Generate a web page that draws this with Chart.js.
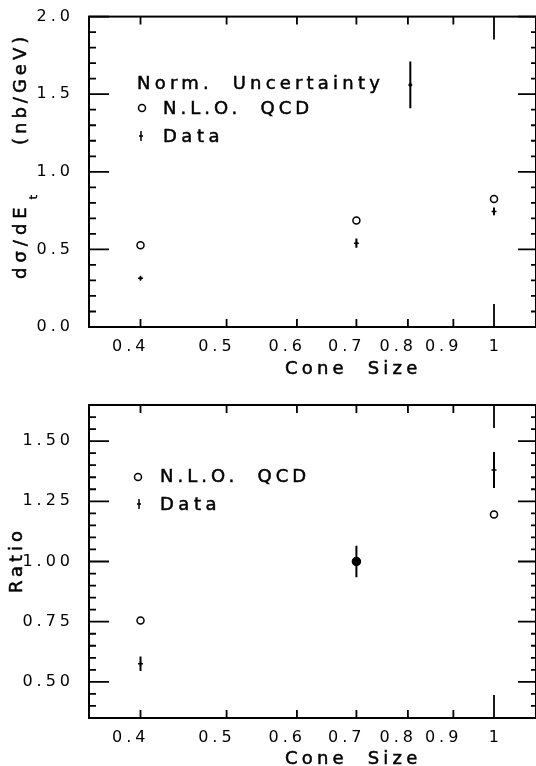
<!DOCTYPE html>
<html>
<head>
<meta charset="utf-8">
<script src="https://cdn.jsdelivr.net/npm/chart.js@4.4.0/dist/chart.umd.min.js"></script>
<style>
  html, body { margin: 0; padding: 0; background: #fff; }
  .panel { position: absolute; left: 0; width: 536px; height: 383px; }
</style>
</head>
<body>
<div class="panel" style="top:0"><canvas id="xsecChart" width="536" height="383"></canvas></div>
<div class="panel" style="top:383px"><canvas id="ratioChart" width="536" height="383"></canvas></div>
<script>
// values
const coneSizes = [0.4, 0.7, 1.0];
const nloXsec = [0.526, 0.686, 0.825];
const dataXsec = [0.314, 0.54, 0.745];
const dataXsecErr = [0.01, 0.03, 0.025];
const normUncX = [0.805];
const normUncY = [1.56];
const normUncErr = [0.15];
const nloRatio = [0.755, 1.0, 1.195];
const dataRatio = [0.575, 1.0, 1.38];
const dataRatioErr = [0.03, 0.065, 0.075];

const xTicks = [0.4, 0.5, 0.6, 0.7, 0.8, 0.9, 1];
const xTickLabels = ['0.4', '0.5', '0.6', '0.7', '0.8', '0.9', '1'];
const xsecTicks = [0, 0.5, 1, 1.5, 2];
const xsecTickLabels = ['0.0', '0.5', '1.0', '1.5', '2.0'];
const ratioTicks = [0.5, 0.75, 1, 1.25, 1.5];
const ratioTickLabels = ['0.50', '0.75', '1.00', '1.25', '1.50'];

const FONT = "'DejaVu Sans', sans-serif";

function toXY(xs, ys) {
  return xs.map((x, i) => ({ x: x, y: ys[i] }));
}

// text a little heavier, like the plotter lettering
function txt(ctx, s, x, y, size, spacing) {
  ctx.font = size + 'px ' + FONT;
  ctx.letterSpacing = spacing + 'px';
  ctx.lineWidth = 0.5;
  ctx.fillText(s, x, y);
  ctx.strokeText(s, x, y);
  return ctx.measureText(s).width;
}

function drawCross(ctx, x, y) {
  ctx.lineWidth = 1.5;
  ctx.beginPath();
  ctx.moveTo(x, y - 5); ctx.lineTo(x, y + 5);
  ctx.moveTo(x - 2, y); ctx.lineTo(x + 2, y);
  ctx.stroke();
}

function panelPlugin(cfg) {
  return {
    id: 'panel',
    beforeDraw(chart) {
      chart.ctx.letterSpacing = '4px';
    },
    afterDatasetsDraw(chart) {
      const ctx = chart.ctx, ys = chart.scales.y;
      ctx.save();
      ctx.strokeStyle = '#000';
      ctx.lineWidth = 2;
      ctx.beginPath();
      chart.data.datasets.forEach((ds, i) => {
        if (!ds.errors) return;
        chart.getDatasetMeta(i).data.forEach((pt, j) => {
          const v = ds.data[j].y, e = ds.errors[j];
          ctx.moveTo(pt.x, ys.getPixelForValue(v - e));
          ctx.lineTo(pt.x, ys.getPixelForValue(v + e));
        });
      });
      ctx.stroke();
      ctx.restore();
    },
    afterDraw(chart) {
      const ctx = chart.ctx, a = chart.chartArea;
      const xs = chart.scales.x, ys = chart.scales.y;
      ctx.save();
      ctx.strokeStyle = '#000';
      ctx.fillStyle = '#000';
      ctx.lineWidth = 2;
      ctx.strokeRect(a.left, a.top, a.right - a.left, a.bottom - a.top);

      // inward ticks
      ctx.lineWidth = 1.8;
      ctx.beginPath();
      xTicks.forEach(v => {
        const px = xs.getPixelForValue(v);
        const len = v === 1 ? 23 : 8;
        ctx.moveTo(px, a.bottom); ctx.lineTo(px, a.bottom - len);
        ctx.moveTo(px, a.top); ctx.lineTo(px, a.top + len);
      });
      const n = Math.round((ys.max - ys.min) / cfg.minorStep);
      for (let i = 0; i <= n; i++) {
        const v = ys.min + i * cfg.minorStep;
        const major = cfg.majors.some(m => Math.abs(m - v) < 1e-6);
        const py = ys.getPixelForValue(v);
        ctx.moveTo(a.left, py); ctx.lineTo(a.left + (major ? 20 : 7), py);
        ctx.moveTo(a.right, py); ctx.lineTo(a.right - (major ? 18 : 5), py);
      }
      ctx.stroke();

      // x title
      ctx.textAlign = 'left';
      ctx.textBaseline = 'alphabetic';
      txt(ctx, 'Cone  Size', 285, cfg.xTitleY, 18, 4.2);

      // y title
      ctx.save();
      ctx.translate(cfg.yTitleX, 0);
      ctx.rotate(-Math.PI / 2);
      cfg.yTitle(ctx);
      ctx.restore();

      // legend
      cfg.legend(ctx);
      ctx.restore();
    }
  };
}

function nloPoint(ctx, x, y) {
  ctx.save();
  ctx.lineWidth = 1.5;
  ctx.beginPath();
  ctx.arc(x, y, 3.5, 0, Math.PI * 2);
  ctx.stroke();
  ctx.restore();
}

const xAxis = {
  type: 'logarithmic',
  min: 0.35,
  max: 1.115,
  grid: { display: false },
  border: { display: false },
  afterBuildTicks: s => { s.ticks = xTicks.map(v => ({ value: v })); },
  ticks: {
    autoSkip: false,
    maxRotation: 0,
    align: 'end',
    padding: 2,
    labelOffset: 9,
    color: '#000',
    font: { family: FONT, size: 16 },
    callback: v => xTickLabels[xTicks.indexOf(v)]
  }
};

function yAxis(min, max, ticks, labels) {
  return {
    type: 'linear',
    min: min,
    max: max,
    grid: { display: false },
    border: { display: false },
    afterBuildTicks: s => { s.ticks = ticks.map(v => ({ value: v })); },
    afterFit: s => { s.width = 89; },
    ticks: {
      padding: 7,
      color: '#000',
      font: { family: FONT, size: 16 },
      callback: v => labels[ticks.indexOf(v)]
    }
  };
}

new Chart(document.getElementById('xsecChart'), {
  type: 'scatter',
  data: {
    datasets: [
      {
        label: 'Data',
        data: toXY(coneSizes, dataXsec),
        errors: dataXsecErr,
        pointStyle: 'cross',
        pointRadius: 2.5,
        borderColor: '#000',
        borderWidth: 1.5
      },
      {
        label: 'Norm. Uncertainty',
        data: toXY(normUncX, normUncY),
        errors: normUncErr,
        pointStyle: 'circle',
        pointRadius: 1.5,
        backgroundColor: '#000',
        borderColor: '#000'
      },
      {
        label: 'N.L.O. QCD',
        data: toXY(coneSizes, nloXsec),
        pointStyle: 'circle',
        pointRadius: 3.5,
        borderWidth: 1.5,
        borderColor: '#000',
        backgroundColor: '#fff'
      }
    ]
  },
  options: {
    responsive: false,
    animation: false,
    layout: { autoPadding: false, padding: { top: 15, left: 0, right: 0, bottom: 0 } },
    plugins: { legend: { display: false }, tooltip: { enabled: false } },
    scales: {
      x: Object.assign({}, xAxis, { afterFit: s => { s.height = 56; } }),
      y: yAxis(0, 2, xsecTicks, xsecTickLabels)
    }
  },
  plugins: [panelPlugin({
    minorStep: 0.1,
    majors: xsecTicks,
    xTitleY: 374,
    yTitleX: 26,
    yTitle: ctx => {
      ctx.textAlign = 'left';
      const w = txt(ctx, 'dσ/dE', -279, 0, 18, 5);
      txt(ctx, 't', -279 + w + 3, 11, 11, 0);
      txt(ctx, '(nb/GeV)', -145, 0, 18, 4);
    },
    legend: ctx => {
      ctx.textAlign = 'left';
      txt(ctx, 'Norm.  Uncertainty', 137, 89, 18, 4.2);
      nloPoint(ctx, 142, 108);
      txt(ctx, 'N.L.O.  QCD', 163, 114, 18, 4);
      drawCross(ctx, 141, 136);
      txt(ctx, 'Data', 163, 142, 18, 4.5);
    }
  })]
});

new Chart(document.getElementById('ratioChart'), {
  type: 'scatter',
  data: {
    datasets: [
      {
        label: 'Data',
        data: toXY(coneSizes, dataRatio),
        errors: dataRatioErr,
        pointStyle: c => Math.abs(dataRatio[c.dataIndex] - nloRatio[c.dataIndex]) < 0.005 ? 'circle' : 'cross',
        pointRadius: c => Math.abs(dataRatio[c.dataIndex] - nloRatio[c.dataIndex]) < 0.005 ? 4 : 2.5,
        backgroundColor: '#000',
        borderColor: '#000',
        borderWidth: 1.5
      },
      {
        label: 'N.L.O. QCD',
        data: toXY(coneSizes, nloRatio),
        pointStyle: 'circle',
        pointRadius: 3.5,
        borderWidth: 1.5,
        borderColor: '#000',
        backgroundColor: '#fff'
      }
    ]
  },
  options: {
    responsive: false,
    animation: false,
    layout: { autoPadding: false, padding: { top: 22, left: 0, right: 0, bottom: 0 } },
    plugins: { legend: { display: false }, tooltip: { enabled: false } },
    scales: {
      x: Object.assign({}, xAxis, { afterFit: s => { s.height = 48; } }),
      y: yAxis(0.35, 1.65, ratioTicks, ratioTickLabels)
    }
  },
  plugins: [panelPlugin({
    minorStep: 0.05,
    majors: ratioTicks,
    xTitleY: 381,
    yTitleX: 22,
    yTitle: ctx => {
      ctx.textAlign = 'center';
      txt(ctx, 'Ratio', -177, 0, 18, 4);
    },
    legend: ctx => {
      ctx.textAlign = 'left';
      nloPoint(ctx, 138, 94);
      txt(ctx, 'N.L.O.  QCD', 160, 99, 18, 4);
      drawCross(ctx, 139, 121);
      txt(ctx, 'Data', 160, 127, 18, 4.5);
    }
  })]
});
</script>
</body>
</html>
